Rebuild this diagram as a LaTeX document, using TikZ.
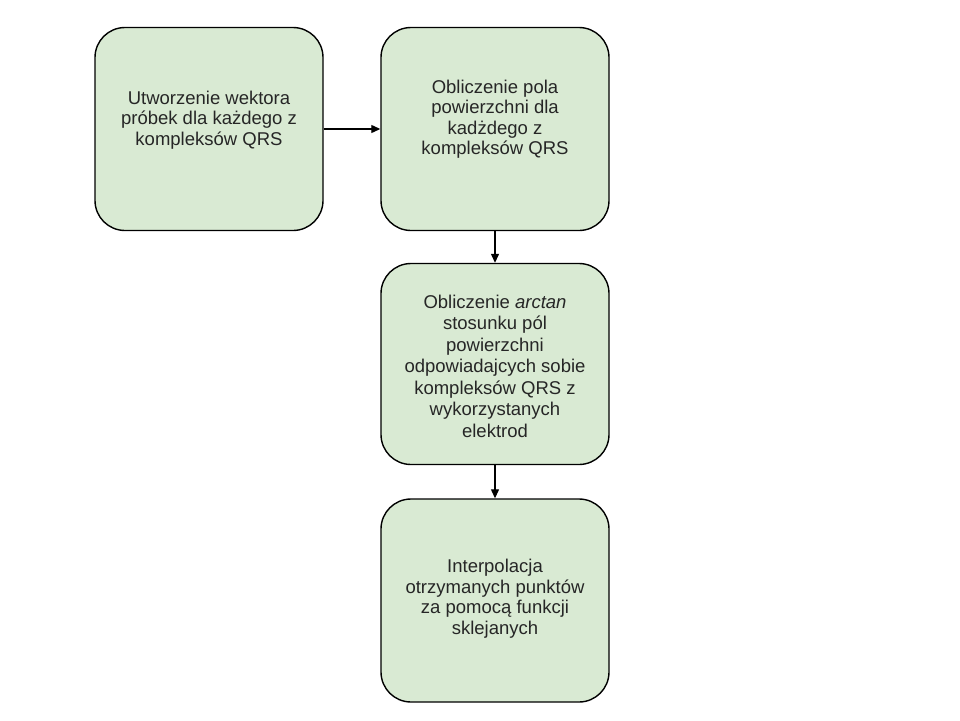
\documentclass[tikz,border=0pt]{standalone}
\usepackage{fontspec}
\setmainfont{Liberation Sans}
\usetikzlibrary{arrows.meta}

\tikzset{
  krok/.style = {draw, line width=1.4pt, fill=krokfill, rounded corners=30pt,
                 minimum width=228pt, minimum height=203pt, inner sep=0pt},
  napis/.style = {align=center, font=\fontsize{18.5}{20.5}\selectfont,
                  text=black!85, inner sep=0pt},
  strzalka/.style = {draw, line width=1.2pt, -{Triangle[length=9pt,width=8pt]}}
}
\definecolor{krokfill}{HTML}{D9EAD3}

\begin{document}
\begin{tikzpicture}[x=1pt, y=-1pt]
\useasboundingbox[fill=white] (0,0) rectangle (960,720);

\node (wektor) [krok, label={[napis, yshift=9pt]center:{Utworzenie wektora\\próbek dla każdego z\\kompleksów QRS}}] at (209,129) {};
\node (pole) [krok, label={[napis, yshift=10pt]center:{Obliczenie pola\\powierzchni dla\\kadżdego z\\kompleksów QRS}}] at (495,129) {};
\node (arctan) [krok, minimum height=201pt, label={[napis, font=\fontsize{18.5}{21.5}\selectfont, yshift=-2pt]center:{Obliczenie \textit{arctan}\\stosunku pól\\powierzchni\\odpowiadajcych sobie\\kompleksów QRS z\\wykorzystanych\\elektrod}}] at (495,364) {};
\node (interp) [krok, label={[napis, yshift=2pt]center:{Interpolacja\\otrzymanych punktów\\za pomocą funkcji\\sklejanych}}] at (495,600.5) {};

\draw[strzalka] (wektor) -- (pole);
\draw[strzalka] (pole) -- (arctan);
\draw[strzalka] (arctan) -- (interp);
\end{tikzpicture}
\end{document}
